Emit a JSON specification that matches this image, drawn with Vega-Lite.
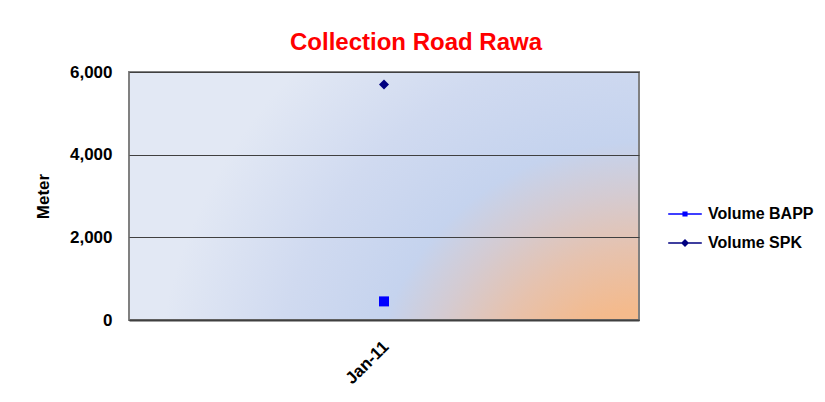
{
  "$schema": "https://vega.github.io/schema/vega-lite/v6.json",
  "autosize": "none",
  "width": 510,
  "height": 248,
  "padding": {"left": 129, "top": 72, "right": 186, "bottom": 82},
  "background": "white",
  "title": {
    "text": "Collection Road Rawa",
    "color": "#ff0000",
    "font": "Liberation Sans",
    "fontSize": 24,
    "fontWeight": "bold",
    "anchor": "middle",
    "dx": 32,
    "offset": 8
  },
  "config": {
    "font": "Liberation Sans",
    "view": {
      "stroke": "#808080",
      "strokeWidth": 2,
      "fill": {
        "gradient": "radial",
        "x1": 1.0, "y1": 0.924, "r1": 0,
        "x2": 1.0, "y2": 0.924, "r2": 1.0,
        "stops": [
          {"offset": 0, "color": "#f6b987"},
          {"offset": 0.2, "color": "#f4ba8c"},
          {"offset": 0.32, "color": "#e6c2ae"},
          {"offset": 0.43, "color": "#d4cbd2"},
          {"offset": 0.53, "color": "#c5d3ee"},
          {"offset": 0.72, "color": "#d0daf0"},
          {"offset": 0.95, "color": "#e2e8f4"}
        ]
      }
    }
  },
  "data": {
    "values": [
      {"month": "Jan-11", "series": "Volume BAPP", "value": 450},
      {"month": "Jan-11", "series": "Volume SPK", "value": 5700}
    ]
  },
  "mark": {"type": "point", "filled": true, "opacity": 1, "size": 100},
  "encoding": {
    "x": {
      "field": "month",
      "type": "nominal",
      "scale": {"type": "point", "padding": 0.5},
      "axis": {
        "title": null,
        "labelAngle": -45,
        "labelFont": "Liberation Sans",
        "labelFontSize": 17,
        "labelFontWeight": "bold",
        "labelColor": "#000000",
        "labelPadding": 18,
        "labelOffset": -4,
        "ticks": false,
        "domainColor": "#404040",
        "domainWidth": 2,
        "grid": false
      }
    },
    "y": {
      "field": "value",
      "type": "quantitative",
      "scale": {"domain": [0, 6000], "nice": false},
      "axis": {
        "title": "Meter",
        "titleFont": "Liberation Sans",
        "titleFontSize": 17,
        "titleFontWeight": "bold",
        "titleColor": "#000000",
        "titlePadding": 17,
        "values": [0, 2000, 4000, 6000],
        "format": ",.0f",
        "labelFont": "Liberation Sans",
        "labelFontSize": 17,
        "labelFontWeight": "bold",
        "labelColor": "#000000",
        "labelPadding": 17,
        "ticks": false,
        "domain": false,
        "grid": true,
        "gridColor": "#404040",
        "gridWidth": 1
      }
    },
    "color": {
      "field": "series",
      "type": "nominal",
      "scale": {"domain": ["Volume BAPP", "Volume SPK"], "range": ["#0000ff", "#000080"]},
      "legend": {
        "title": null,
        "orient": "none",
        "legendX": 548,
        "legendY": 134,
        "padding": 0,
        "symbolSize": 256,
        "symbolStrokeWidth": 0,
        "symbolType": {"expr": "datum.value === 'Volume BAPP' ? 'M-2.1,-0.09H2.1V0.09H-2.1Z M-0.32,-0.32H0.32V0.32H-0.32Z' : 'M-2.1,-0.09H2.1V0.09H-2.1Z M0,-0.5L0.5,0L0,0.5L-0.5,0Z'"},
        "labelOffset": 15,
        "rowPadding": 13,
        "labelFont": "Liberation Sans",
        "labelFontSize": 16,
        "labelFontWeight": "bold",
        "labelColor": "#000000"
      }
    },
    "shape": {
      "field": "series",
      "type": "nominal",
      "scale": {"domain": ["Volume SPK", "Volume BAPP"], "range": ["diamond", "square"]},
      "legend": null
    }
  }
}
